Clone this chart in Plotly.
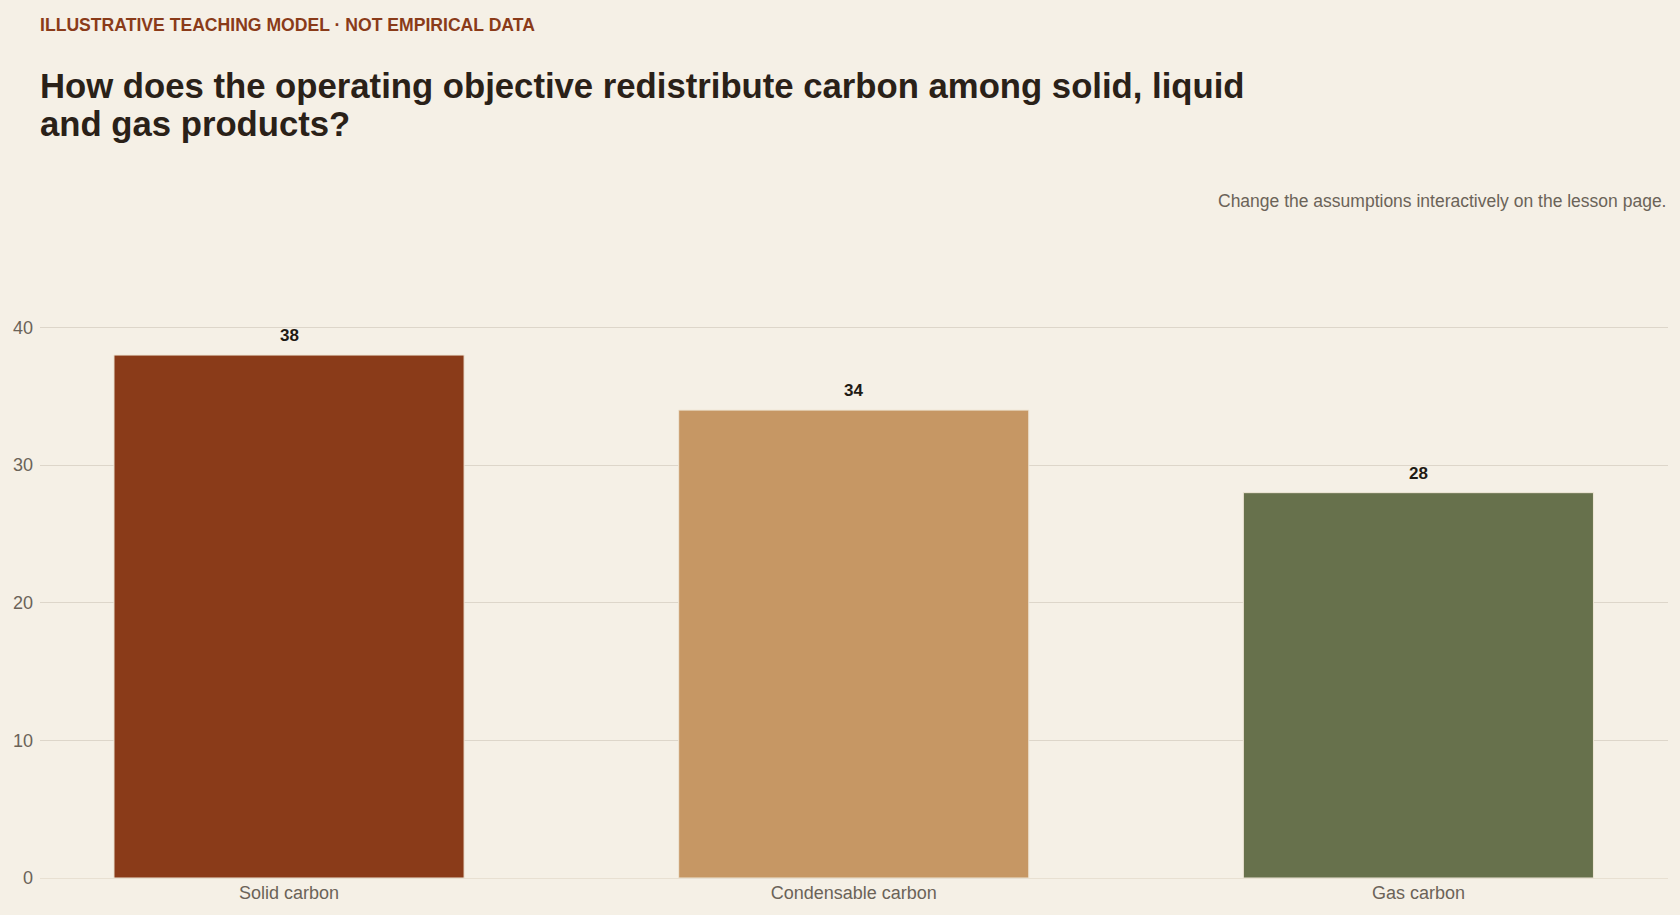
import plotly.graph_objects as go

# Carbon split by product phase (illustrative teaching model)
categories = ["Solid carbon", "Condensable carbon", "Gas carbon"]
carbon_share = [38, 34, 28]
bar_colors = ["#8a3b19", "#c69764", "#67714c"]
y_ticks = [0, 10, 20, 30, 40]

BG = "#f5f0e6"
FONT = "Liberation Sans, Arial, Helvetica, sans-serif"

fig = go.Figure()

fig.add_trace(
    go.Bar(
        x=categories,
        y=carbon_share,
        marker=dict(color=bar_colors, line=dict(color="#efe6d6", width=1)),
        width=0.62,
        hoverinfo="x+y",
        showlegend=False,
    )
)

# value labels above each bar
for cat, val in zip(categories, carbon_share):
    fig.add_annotation(
        x=cat, y=val, text=f"<b>{val}</b>", showarrow=False,
        yanchor="bottom", yshift=8,
        font=dict(family=FONT, size=17, color="#1f1a14"),
    )

# header texts (paper coords, plot spans y 300..878 px)
plot_h = 578.6

def py(px):
    return (878 - px) / plot_h

fig.add_annotation(
    xref="paper", yref="paper", x=0, y=py(12), xanchor="left", yanchor="top", xshift=-2,
    text="<b>ILLUSTRATIVE TEACHING MODEL · NOT EMPIRICAL DATA</b>", showarrow=False,
    font=dict(family=FONT, size=17.6, color="#8a3b19"),
)
title_lines = [
    "How does the operating objective redistribute carbon among solid, liquid",
    "and gas products?",
]
for i, line in enumerate(title_lines):
    fig.add_annotation(
        xref="paper", yref="paper", x=0, y=py(64 + i * 38.5), xanchor="left", yanchor="top", xshift=-2,
        text=f"<b>{line}</b>", showarrow=False,
        font=dict(family=FONT, size=34.7, color="#2a2118"),
    )
fig.add_annotation(
    xref="paper", yref="paper", x=1, y=py(188), xanchor="right", yanchor="top",
    text="Change the assumptions interactively on the lesson page.", showarrow=False,
    font=dict(family=FONT, size=17.5, color="#6b6358"),
)

fig.update_layout(
    width=1680, height=915,
    paper_bgcolor=BG, plot_bgcolor=BG,
    margin=dict(l=40, r=12, t=300, b=37),
    font=dict(family=FONT, size=18, color="#6b6358"),
    bargap=0.38,
)
fig.update_xaxes(
    range=[-0.441, 2.442], showgrid=False, showline=False, ticks="",
    tickfont=dict(size=18, color="#6b6358"), ticklabelstandoff=2,
)
fig.update_yaxes(
    range=[0, 42], tickvals=y_ticks, showgrid=True, gridcolor="#ddd6ca", gridwidth=1,
    zeroline=True, zerolinecolor="#e8e0d2", zerolinewidth=1,
    showline=False, ticks="", ticklabelstandoff=6,
    tickfont=dict(size=18, color="#6b6358"),
)

# drop the default page margin so the figure sits flush in the window
fig.write_html(
    "out.html",
    config={"displayModeBar": False},
    post_script="document.body.style.margin='0';",
)
